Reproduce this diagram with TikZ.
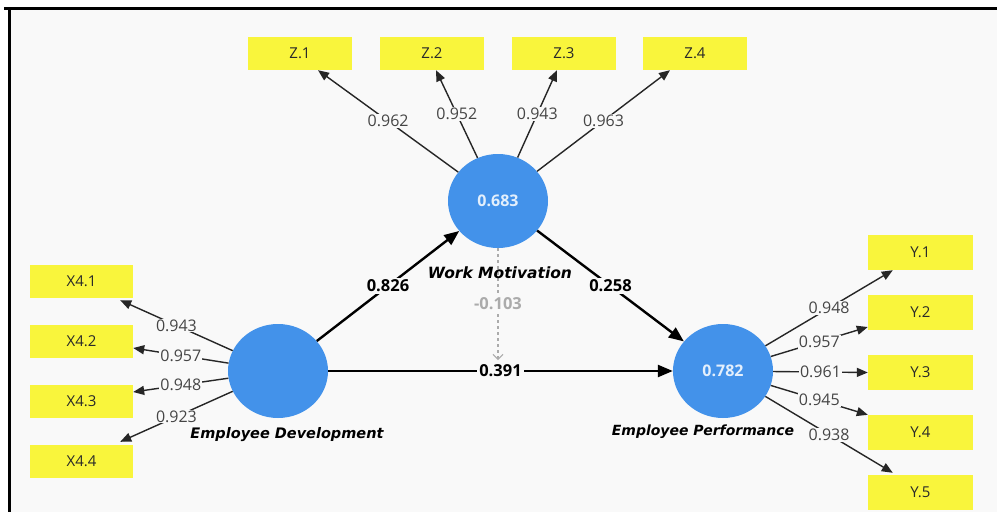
\documentclass[tikz,border=0pt]{standalone}
\usepackage{fontspec}
\setmainfont{Open Sans}
\newfontfamily\namefont{DejaVu Sans}
\usetikzlibrary{arrows.meta,shapes.geometric}
\definecolor{cBg}{HTML}{F9F9F9}
\definecolor{cInd}{HTML}{F9F53C}
\definecolor{cLat}{HTML}{4392EA}
\definecolor{cLab}{HTML}{454545}
\definecolor{cDash}{HTML}{ABABAB}
\begin{document}
\begin{tikzpicture}[x=1pt,y=-1pt,
  indbox/.style={fill=cInd, minimum width=104pt, minimum height=33pt, inner sep=0pt,
    font=\fontsize{15}{17}\selectfont, text=cLab!60!black},
  latnode/.style={ellipse, fill=cLat, minimum width=100pt, minimum height=94pt, inner sep=0pt,
    font=\bfseries\fontsize{16}{18}\selectfont, text=white!85!cLat},
  loadarrow/.style={line width=1.4pt, draw=black!85, -{Triangle[length=11pt,width=9pt]}},
  ldlab/.style={fill=cBg, inner sep=1pt, font=\fontsize{16}{18}\selectfont, text=cLab, pos=0.5},
  patharrow/.style={line width=2.4pt, -{Triangle[length=15pt,width=12pt]}},
  plab/.style={fill=cBg, inner sep=2pt, font=\bfseries\fontsize{16.5}{18}\selectfont, pos=0.5},
  lvname/.style={font=\namefont\bfseries\itshape\fontsize{14.5}{16}\selectfont}
]
\useasboundingbox (0,0) rectangle (997,512);
\fill[white] (0,0) rectangle (997,512);
\fill[cBg] (9,8) rectangle (997,512);
\draw[line width=3pt] (4,8) -- (997,8);
\draw[line width=3pt] (9,8) -- (9,512);

% latent variables
\node[latnode] (wm) at (498,201) {0.683};
\node[latnode] (ed) at (278,371) {};
\node[latnode] (ep) at (723,371) {0.782};

% indicators
\node[indbox] (z1) at (300,53.5) {Z.1};
\node[indbox] (z2) at (432,53.5) {Z.2};
\node[indbox] (z3) at (564,53.5) {Z.3};
\node[indbox] (z4) at (695,53.5) {Z.4};

\node[indbox, minimum width=103pt] (x1) at (81.5,281.5) {X4.1};
\node[indbox, minimum width=103pt] (x2) at (81.5,341.5) {X4.2};
\node[indbox, minimum width=103pt] (x3) at (81.5,401.5) {X4.3};
\node[indbox, minimum width=103pt] (x4) at (81.5,461.5) {X4.4};

\node[indbox, minimum width=105pt, minimum height=35pt] (y1) at (920.5,252.5) {Y.1};
\node[indbox, minimum width=105pt, minimum height=35pt] (y2) at (920.5,312.5) {Y.2};
\node[indbox, minimum width=105pt, minimum height=35pt] (y3) at (920.5,372.5) {Y.3};
\node[indbox, minimum width=105pt, minimum height=35pt] (y4) at (920.5,432.5) {Y.4};
\node[indbox, minimum width=105pt, minimum height=35pt] (y5) at (920.5,492.5) {Y.5};

% loadings Work Motivation
\draw[loadarrow] (wm) -- node[ldlab]{0.962} ([xshift=18pt]z1.south);
\draw[loadarrow] (wm) -- node[ldlab]{0.952} ([xshift=4pt]z2.south);
\draw[loadarrow] (wm) -- node[ldlab]{0.943} ([xshift=-7pt]z3.south);
\draw[loadarrow] (wm) -- node[ldlab]{0.963} ([xshift=-25pt]z4.south);

% loadings Employee Development
\draw[loadarrow] (ed) -- node[ldlab]{0.943} ([xshift=-13pt,yshift=-2pt]x1.south east);
\draw[loadarrow] (ed) -- node[ldlab]{0.957} ([yshift=-6.5pt]x2.east);
\draw[loadarrow] (ed) -- node[ldlab]{0.948} ([yshift=9.5pt]x3.east);
\draw[loadarrow] (ed) -- node[ldlab]{0.923} ([xshift=-13pt,yshift=3pt]x4.north east);

% loadings Employee Performance
\draw[loadarrow] (ep) -- node[ldlab]{0.948} ([xshift=25pt]y1.south west);
\draw[loadarrow] (ep) -- node[ldlab]{0.957} ([yshift=-14.5pt]y2.west);
\draw[loadarrow] (ep) -- node[ldlab]{0.961} (y3.west);
\draw[loadarrow] (ep) -- node[ldlab]{0.945} (y4.north west);
\draw[loadarrow] (ep) -- node[ldlab]{0.938} ([xshift=25pt,yshift=2pt]y5.north west);

% structural paths
\draw[patharrow] (ed) -- node[plab]{0.826} (wm);
\draw[patharrow] (wm) -- node[plab]{0.258} (ep);
\draw[patharrow] (ed) -- node[plab]{0.391} (ep);

% moderating (dashed) effect
\coordinate (dend) at (498,360);
\draw[cDash, line width=2.6pt, dash pattern=on 3pt off 3pt, -{Straight Barb[length=5pt,width=10pt,line width=1pt]}]
  (wm.south) -- node[fill=cBg, inner sep=2pt, text=cDash, font=\bfseries\fontsize{16.5}{18}\selectfont, pos=0.5]{-0.103} (dend);

% latent variable names
\node[lvname, font=\namefont\bfseries\itshape\fontsize{15.5}{17}\selectfont] (wmname) at (500,273) {Work Motivation};
\node[lvname] (edname) at (287,435) {Employee Development};
\node[lvname, font=\namefont\bfseries\itshape\fontsize{14}{16}\selectfont] (epname) at (703,432) {Employee Performance};
\end{tikzpicture}
\end{document}
